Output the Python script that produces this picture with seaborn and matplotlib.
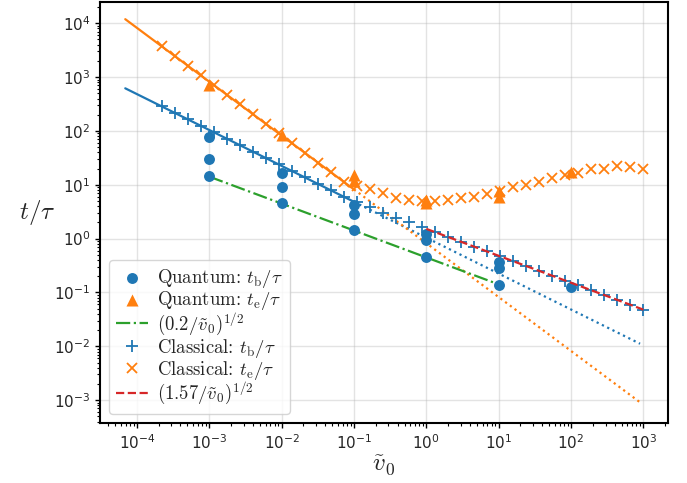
import numpy as np
import pandas as pd
import matplotlib
matplotlib.use("Agg")
import matplotlib.pyplot as plt
import seaborn as sns

# ---------------- data ----------------
# Quantum simulations
q_b_x = [1e-3, 1e-3, 1e-3, 1e-2, 1e-2, 1e-2, 1e-1, 1e-1, 1e-1, 1, 1, 1, 10, 10, 10, 100]
q_b_y = [78, 30, 14.5, 16.3, 8.9, 4.6, 4.3, 2.85, 1.42, 1.24, 0.93, 0.45, 0.37, 0.29, 0.14, 0.124]
q_e_x = [1e-3, 1e-2, 1e-1, 1e-1, 1, 1, 10, 10, 100]
q_e_y = [720, 84, 15.0, 11.5, 5.2, 4.6, 7.6, 6.0, 17.4]

# Classical simulations
c_x = [2.188e-4, 3.311e-4, 5.012e-4, 7.586e-4, 1.148e-3, 1.738e-3, 2.630e-3, 3.981e-3,
       6.026e-3, 9.120e-3, 1.380e-2, 2.089e-2, 3.162e-2, 4.786e-2, 7.244e-2, 0.1096,
       0.1660, 0.2512, 0.3802, 0.5754, 0.8710, 1.318, 1.995, 3.020, 4.571, 6.918,
       10.47, 15.85, 23.99, 36.31, 54.95, 83.18, 125.9, 190.5, 288.4, 436.5, 660.7, 1000]
c_b_y = [286, 217, 165, 125, 95, 72, 55, 41, 31, 24, 18, 13.7, 10.4, 7.9, 6.0, 4.7,
         3.8, 3.05, 2.45, 2.0, 1.63, 1.32, 1.074, 0.873, 0.709, 0.577, 0.469, 0.381,
         0.310, 0.252, 0.205, 0.166, 0.135, 0.110, 0.0893, 0.0726, 0.059, 0.048]
c_e_y = [3748, 2477, 1636, 1081, 714, 472, 312, 206, 136, 90, 59.4, 39.3, 25.9, 17.1,
         11.3, 9.5, 8.3, 6.9, 5.8, 5.2, 5.0, 5.0, 5.2, 5.6, 6.0, 6.8, 7.8, 8.9, 9.8,
         11.3, 13.1, 15.5, 16.3, 19.3, 19.3, 22.2, 21.0, 19.3]

# Power-law fits  y = coef * x**expo
fit_b_coef, fit_b_expo = 1.04, -2.0 / 3.0
fit_e_coef, fit_e_expo = 0.82, -1.0
fit_solid_x = [6.9e-5, 0.1]
fit_dotted_x = [0.1, 900]

# Reference square-root laws  y = (c / x)**0.5
green_c, green_x = 0.2, [1e-3, 10]
red_c, red_x = 2.3, [1, 1000]

labels = [r"Quantum: $t_{\mathrm{b}}/\tau$",
          r"Quantum: $t_{\mathrm{e}}/\tau$",
          r"$(0.2/\tilde{v}_0)^{1/2}$",
          r"Classical: $t_{\mathrm{b}}/\tau$",
          r"Classical: $t_{\mathrm{e}}/\tau$",
          r"$(1.57/\tilde{v}_0)^{1/2}$"]

C0, C1, C2, C3 = "#1f77b4", "#ff7f0e", "#2ca02c", "#d62728"

# ---------------- figure ----------------
sns.set_style("ticks")
plt.rcParams["font.family"] = ["DejaVu Sans"]
fig, ax = plt.subplots(figsize=(6.87, 4.83), dpi=100)
fig.subplots_adjust(left=0.1456, right=0.9723, bottom=0.1236, top=0.9965)

def power(xs, c, p):
    return c * np.asarray(xs, dtype=float) ** p

def sqrt_law(xs, c):
    return (c / np.asarray(xs, dtype=float)) ** 0.5

# fit lines
sns.lineplot(x=fit_solid_x, y=power(fit_solid_x, fit_b_coef, fit_b_expo), ax=ax,
             color=C0, lw=1.6, ls="-")
sns.lineplot(x=fit_dotted_x, y=power(fit_dotted_x, fit_b_coef, fit_b_expo), ax=ax,
             color=C0, lw=1.6, ls=":")
sns.lineplot(x=fit_solid_x, y=power(fit_solid_x, fit_e_coef, fit_e_expo), ax=ax,
             color=C1, lw=1.6, ls="-")
sns.lineplot(x=fit_dotted_x, y=power(fit_dotted_x, fit_e_coef, fit_e_expo), ax=ax,
             color=C1, lw=1.6, ls=":")

# markers
sns.scatterplot(x=q_b_x, y=q_b_y, ax=ax, color=C0, marker="o", s=62, linewidth=0,
                label=labels[0], zorder=3)
sns.scatterplot(x=q_e_x, y=q_e_y, ax=ax, color=C1, marker="^", s=75, linewidth=0,
                label=labels[1], zorder=3)
sns.lineplot(x=green_x, y=sqrt_law(green_x, green_c), ax=ax, color=C2, lw=1.6,
             ls="-.", label=labels[2], zorder=2)
sns.lineplot(x=c_x, y=c_b_y, ax=ax, color=C0, marker="+", markersize=8, mew=1.3,
             mec=C0, mfc=C0, ls="", label=labels[3], zorder=3)
sns.lineplot(x=c_x, y=c_e_y, ax=ax, color=C1, marker="x", markersize=7.5, mew=1.3,
             mec=C1, mfc=C1, ls="", label=labels[4], zorder=3)
sns.lineplot(x=red_x, y=sqrt_law(red_x, red_c), ax=ax, color=C3, lw=1.6,
             ls="--", label=labels[5], zorder=4)

ax.set_xscale("log")
ax.set_yscale("log")
ax.set_xlim(10 ** -4.51, 10 ** 3.34)
ax.set_ylim(10 ** -3.43, 10 ** 4.40)

ax.grid(True, which="major", color="#b0b0b0", alpha=0.35, lw=1.0)
for s in ax.spines.values():
    s.set_linewidth(1.5)
    s.set_color("black")
ax.tick_params(which="major", direction="out", length=3.5, width=1, labelsize=11,
               color="black")
ax.tick_params(which="minor", direction="out", length=2, width=0.8, color="black")
ax.xaxis.set_minor_locator(matplotlib.ticker.LogLocator(base=10, subs=np.arange(2, 10), numticks=20))
ax.yaxis.set_minor_locator(matplotlib.ticker.LogLocator(base=10, subs=np.arange(2, 10), numticks=20))
ax.xaxis.set_minor_formatter(matplotlib.ticker.NullFormatter())
ax.yaxis.set_minor_formatter(matplotlib.ticker.NullFormatter())

xl = ax.set_xlabel(r"$\tilde{v}_0$", fontsize=18, labelpad=1)
xl.set_math_fontfamily("cm")
yl = ax.set_ylabel(r"$t/\tau$", fontsize=18, rotation=0, ha="right", va="center")
yl.set_math_fontfamily("cm")
ax.yaxis.set_label_coords(-0.078, 0.5)

h, l = ax.get_legend_handles_labels()
order = [l.index(lab) for lab in labels]
leg = ax.legend([h[i] for i in order], [l[i] for i in order], loc="lower left",
                prop={"family": "cmr10", "size": 13.5}, frameon=True, fancybox=True,
                framealpha=0.8, edgecolor="#cccccc", labelspacing=-0.05,
                handletextpad=0.5, handlelength=1.7, borderpad=0.35)
for t in leg.get_texts():
    t.set_math_fontfamily("cm")

fig.savefig("out.png", dpi=100)
